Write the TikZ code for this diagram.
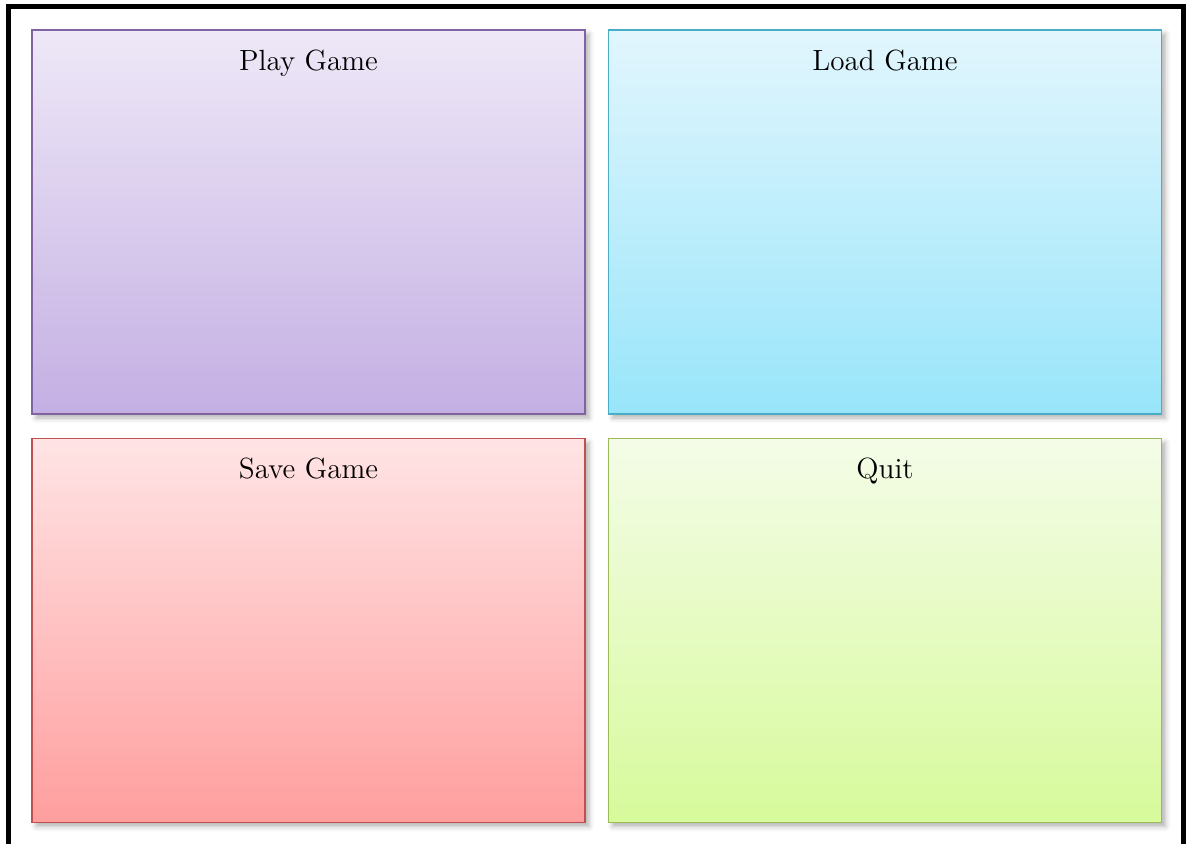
\documentclass[tikz,border=0pt]{standalone}
\usepackage{tikz}
\usetikzlibrary{positioning,shadows.blur}
\definecolor{playline}{HTML}{8064A2}
\definecolor{playtop}{HTML}{EEE8F7}
\definecolor{playbot}{HTML}{C4AFE3}
\definecolor{loadline}{HTML}{4BACC6}
\definecolor{loadtop}{HTML}{E2F6FD}
\definecolor{loadbot}{HTML}{98E5FA}
\definecolor{saveline}{HTML}{C0504D}
\definecolor{savetop}{HTML}{FFE4E5}
\definecolor{savebot}{HTML}{FF9E9E}
\definecolor{quitline}{HTML}{9BBB59}
\definecolor{quittop}{HTML}{F4FCE8}
\definecolor{quitbot}{HTML}{D7FA9B}

\begin{document}
\begin{tikzpicture}[x=0.5pt,y=-0.5pt,
 panel/.style={rectangle,draw=#1line,line width=0.75pt,top color=#1top,bottom color=#1bot,
  minimum width=276.5pt,minimum height=192pt,inner sep=0pt,
  blur shadow={shadow xshift=2pt,shadow yshift=-2pt,shadow blur radius=2.5pt,shadow opacity=30}},
 title/.style={inner sep=0pt,font=\fontsize{14.6}{17}\selectfont}]
\useasboundingbox (0,0) rectangle (1186,844);
\draw[line width=2.5pt] (8.5,844) -- (8.5,6.5) -- (1183.5,6.5) -- (1183.5,844);
% four menu panels
\node[panel=play] (play) at (308.5,222) {};
\node[panel=load] (load) at (885,222) {};
\node[panel=save] (save) at (308.5,630.5) {};
\node[panel=quit] (quit) at (885,630.5) {};
% titles
\node[title,below=20.5pt of play.north,anchor=base] (playtext) {Play Game};
\node[title,below=20.5pt of load.north,anchor=base] (loadtext) {Load Game};
\node[title,below=20.5pt of save.north,anchor=base] (savetext) {Save Game};
\node[title,below=20.5pt of quit.north,anchor=base] (quittext) {Quit};
\end{tikzpicture}
\end{document}
